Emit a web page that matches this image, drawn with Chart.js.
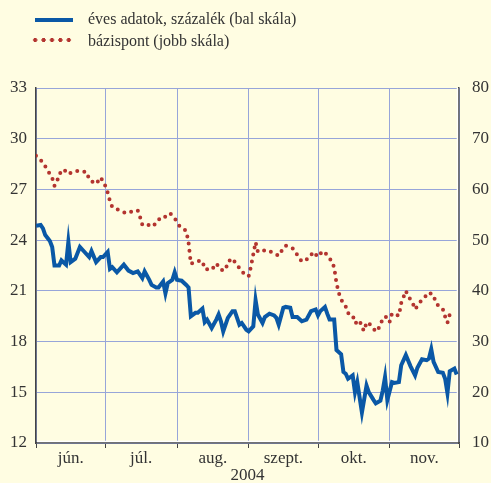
<!DOCTYPE html>
<html lang="hu">
<head>
<meta charset="UTF-8">
<title>Hozamok</title>
<script src="https://cdn.jsdelivr.net/npm/chart.js"></script>
<style>
  body {
    margin: 0;
    background: #fffde2;
    font-family: "Liberation Serif", "Times New Roman", serif;
  }
  .wrap {
    position: relative;
    width: 491px;
    height: 483px;
  }
  .sample { position: absolute; }
  .label {
    position: absolute;
    left: 88px;
    font-size: 16px;
    line-height: 18px;
    color: #333;
    white-space: nowrap;
  }
</style>
</head>
<body>
<div class="wrap">
  <div class="sample" style="left:35px; top:18px; width:38px; height:4px; background:#0a58a6;"></div>
  <div class="label" style="top:10px;">éves adatok, százalék (bal skála)</div>
  <div class="sample" style="left:30.8px; top:38.3px; width:42px; height:4px;
       background-image: radial-gradient(circle, #b3342f 1.8px, rgba(179,52,47,0) 2.3px);
       background-size: 8.4px 4px;"></div>
  <div class="label" style="top:32px;">bázispont (jobb skála)</div>
  <canvas id="chart"></canvas>
</div>

<script>
// x = napok június 1-jétől
var monthLabels = ['jún.', 'júl.', 'aug.', 'szept.', 'okt.', 'nov.'];
var monthStarts = [0, 30, 61, 92, 122, 153, 183];
var leftTicks = [12, 15, 18, 21, 24, 27, 30, 33];
var rightTicks = [10, 20, 30, 40, 50, 60, 70, 80];

// éves adatok, százalék (bal skála)
var blueDays = [
  0, 2, 3, 4, 6, 7, 8, 10, 11, 13,
  14, 15, 17, 19, 21, 23, 24, 26, 28, 29,
  31, 32, 33, 35, 38, 40, 42, 44, 46, 47,
  49, 50, 52, 53, 55, 56, 57, 59, 60, 61,
  63, 65, 66, 67, 69, 70, 72, 73, 74, 76,
  78, 79, 80, 81, 83, 85, 86, 88, 89, 91,
  92, 94, 95, 96, 98, 99, 101, 103, 104, 105,
  107, 108, 110, 111, 113, 115, 117, 119, 121, 122,
  123, 125, 126, 127, 129, 130, 132, 133, 134, 135,
  137, 138, 139, 141, 143, 144, 146, 147, 149, 150,
  151, 152, 154, 155, 157, 158, 160, 162, 164, 165,
  167, 169, 170, 171, 172, 174, 176, 177, 178, 179,
  181, 182
];
var blueValues = [
  24.85, 24.9, 24.7, 24.3, 23.95, 23.6, 22.5, 22.5, 22.8, 22.55,
  23.9, 22.7, 22.9, 23.6, 23.3, 23.0, 23.35, 22.7, 23.0, 23.0,
  23.3, 22.3, 22.4, 22.1, 22.55, 22.2, 22.05, 22.15, 21.75, 22.15,
  21.65, 21.35, 21.2, 21.2, 21.55, 20.85, 21.45, 21.65, 22.1, 21.65,
  21.6, 21.35, 21.2, 19.5, 19.7, 19.7, 19.95, 19.15, 19.3, 18.8,
  19.3, 19.6, 19.2, 18.6, 19.4, 19.8, 19.8, 19.0, 19.1, 18.7,
  18.6, 18.9, 20.45, 19.6, 19.1, 19.45, 19.65, 19.55, 19.4, 19.0,
  20.0, 20.05, 20.0, 19.45, 19.45, 19.2, 19.3, 19.8, 19.9, 19.55,
  19.8, 20.05, 19.65, 19.3, 19.3, 17.5, 17.25, 16.2, 16.1, 15.8,
  16.0, 15.0, 15.6, 13.8, 15.4, 15.0, 14.55, 14.35, 14.5, 15.1,
  15.9, 14.55, 15.6, 15.55, 15.6, 16.6, 17.2, 16.55, 16.0, 16.45,
  16.95, 16.9, 17.0, 17.55, 16.8, 16.2, 16.15, 15.8, 14.95, 16.25,
  16.4, 16.05
];

// bázispont (jobb skála)
var redDays = [
  0, 3, 5, 7, 8, 9, 10, 12, 14, 16,
  19, 22, 23, 26, 28, 30, 31, 32, 33, 36,
  39, 41, 44, 45, 46, 48, 50, 52, 54, 56,
  58, 60, 62, 65, 66, 67, 70, 72, 73, 76,
  78, 80, 82, 83, 85, 87, 89, 90, 92, 93,
  95, 96, 100, 103, 105, 106, 108, 111, 113, 115,
  118, 120, 122, 124, 126, 128, 129, 130, 131, 132,
  134, 135, 137, 138, 140, 141, 142, 143, 145, 147,
  149, 150, 152, 153, 154, 157, 158, 160, 161, 163,
  164, 166, 168, 170, 172, 173, 176, 177, 178, 179,
  181
];
var redValues = [
  66.65, 65.35, 63.8, 62.3, 60.7, 61.4, 63.0, 64.0, 63.0, 63.5,
  63.7, 63.4, 61.9, 61.1, 62.4, 60.7, 59.4, 57.7, 56.5, 55.9,
  55.3, 55.6, 55.9, 54.6, 53.0, 53.2, 52.65, 53.3, 54.6, 54.6,
  55.3, 54.3, 52.85, 51.8, 49.5, 45.35, 45.9, 45.9, 44.3, 44.15,
  45.4, 44.1, 44.1, 45.75, 46.4, 44.95, 44.1, 43.25, 42.9, 44.8,
  49.6, 47.7, 48.05, 47.4, 46.9, 47.7, 48.9, 48.4, 47.1, 45.75,
  46.4, 47.7, 46.7, 47.85, 47.1, 45.75, 44.6, 41.5, 39.6, 38.3,
  36.9, 35.6, 35.2, 33.6, 34.2, 32.7, 32.1, 33.8, 33.25, 31.95,
  33.1, 34.7, 34.9, 33.9, 35.55, 35.1, 37.6, 40.0, 39.0, 37.55,
  36.35, 37.7, 38.65, 39.7, 39.15, 37.55, 36.4, 34.9, 33.7, 35.35,
  36.15
];

var gridColor = '#97a5d9';
var axisColor = '#444';

var monthMids = [];
for (var i = 0; i < monthLabels.length; i++) {
  monthMids.push((monthStarts[i] + monthStarts[i + 1]) / 2);
}
var xTicks = monthStarts.concat(monthMids).sort(function(a, b) { return a - b; });

function pairs(xs, ys) {
  return xs.map(function(x, i) { return { x: x, y: ys[i] }; });
}
function isStart(v) { return monthStarts.indexOf(v) !== -1; }

// világos szegély a tengelyek mellett
var bevel = {
  id: 'bevel',
  beforeDatasetsDraw: function(chart) {
    var a = chart.chartArea, ctx = chart.ctx;
    ctx.save();
    ctx.strokeStyle = '#ffffff';
    ctx.lineWidth = 1.5;
    ctx.beginPath();
    ctx.moveTo(a.left + 1, a.bottom - 1.5);
    ctx.lineTo(a.right - 1.5, a.bottom - 1.5);
    ctx.lineTo(a.right - 1.5, a.top);
    ctx.stroke();
    ctx.restore();
  }
};

Chart.defaults.font.family = '"Liberation Serif", "Times New Roman", serif';
Chart.defaults.font.size = 17;
Chart.defaults.color = '#333';

new Chart(document.getElementById('chart'), {
  type: 'line',
  data: {
    datasets: [{
      label: 'éves adatok, százalék (bal skála)',
      data: pairs(blueDays, blueValues),
      yAxisID: 'y',
      borderColor: '#0a58a6',
      borderWidth: 4,
      borderJoinStyle: 'miter',
      pointRadius: 0,
      tension: 0
    }, {
      label: 'bázispont (jobb skála)',
      data: pairs(redDays, redValues),
      yAxisID: 'y2',
      borderColor: '#b3342f',
      borderWidth: 4,
      borderDash: [0, 7.2],
      borderCapStyle: 'round',
      pointRadius: 0,
      tension: 0
    }]
  },
  options: {
    responsive: true,
    maintainAspectRatio: false,
    animation: false,
    layout: { padding: { top: 88, left: 0, right: 0, bottom: 0 } },
    plugins: {
      legend: { display: false },
      tooltip: { enabled: false }
    },
    scales: {
      x: {
        type: 'linear',
        min: 0,
        max: 183,
        afterBuildTicks: function(s) {
          s.ticks = xTicks.map(function(v) { return { value: v }; });
        },
        afterFit: function(s) { s.height = 40; },
        ticks: {
          autoSkip: false,
          maxRotation: 0,
          padding: 0,
          callback: function(v) {
            var k = monthMids.indexOf(v);
            return k === -1 ? '' : monthLabels[k];
          }
        },
        grid: {
          color: function(c) { return isStart(c.tick.value) ? gridColor : 'rgba(0,0,0,0)'; },
          tickColor: function(c) { return isStart(c.tick.value) ? axisColor : 'rgba(0,0,0,0)'; },
          tickLength: 5,
          lineWidth: 1
        },
        border: { display: true, color: axisColor, width: 1.5 },
        title: { display: true, text: '2004', padding: { top: 0, bottom: -3 } }
      },
      y: {
        position: 'left',
        min: 12,
        max: 33,
        afterBuildTicks: function(s) {
          s.ticks = leftTicks.map(function(v) { return { value: v }; });
        },
        afterFit: function(s) { s.width = 36; },
        ticks: { padding: 9 },
        grid: { color: gridColor, drawTicks: false, lineWidth: 1 },
        border: { display: true, color: axisColor, width: 1.5 }
      },
      y2: {
        position: 'right',
        min: 10,
        max: 80,
        afterBuildTicks: function(s) {
          s.ticks = rightTicks.map(function(v) { return { value: v }; });
        },
        afterFit: function(s) { s.width = 32; },
        ticks: { padding: 13 },
        grid: { display: false, drawTicks: false },
        border: { display: true, color: axisColor, width: 1.5 }
      }
    }
  },
  plugins: [bevel]
});
</script>
</body>
</html>
